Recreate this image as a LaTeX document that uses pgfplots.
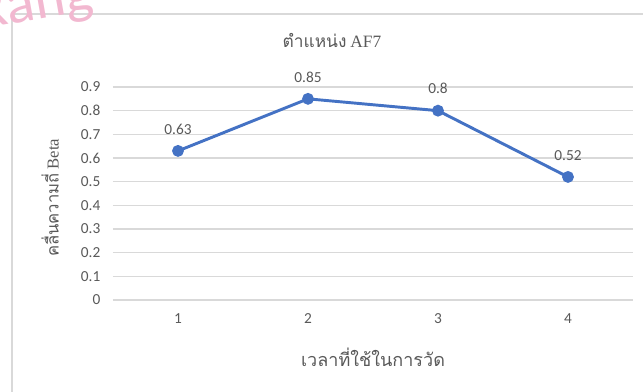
\documentclass[border=0pt]{standalone}
\usepackage{fontspec}
\setmainfont{Carlito}
\newfontfamily\thai[Script=Thai]{Loma}
\newfontfamily\latinserif{Liberation Serif}
\usepackage{pgfplots}
\pgfplotsset{compat=1.18}

\definecolor{linebl}{HTML}{4472C4}
\definecolor{txtgr}{HTML}{595959}
\definecolor{gridgr}{HTML}{D9D9D9}
\definecolor{mark}{HTML}{F2B8D0}

\begin{document}
\begin{tikzpicture}[x=1pt,y=1pt]
% page: 643 x 392 units of 0.75pt, axis box corner at (113,300)
\path[use as bounding box] (-84.75,-69) rectangle (397.5,225);
\clip (-84.75,-69) rectangle (397.5,225);

% chart frame
\draw[gridgr,line width=1.2pt] (-75.75,-69) -- (-75.75,214.5) -- (397.5,214.5);

% watermark
\node[anchor=base west,rotate=10,text=mark,font=\fontsize{44}{44}\selectfont,inner sep=0pt]
  at (-101.25,202.5) {Rang};

\begin{axis}[
  at={(0,0)}, anchor=south west,
  scale only axis,
  width=390pt, height=159.75pt,
  xmin=0.5, xmax=4.5,
  ymin=0, ymax=0.9,
  xtick={1,2,3,4},
  ytick={0,0.1,...,0.9},
  yticklabels={0,0.1,0.2,0.3,0.4,0.5,0.6,0.7,0.8,0.9},
  axis line style={draw=none},
  major tick length=0pt,
  ymajorgrids,
  grid style={gridgr,line width=0.8pt},
  tick label style={font=\fontsize{11.5}{12}\selectfont,text=txtgr},
  /pgf/number format/assume math mode=true,
  yticklabel style={xshift=-6pt},
  xticklabel style={yshift=-7pt},
  title={{\thai ตำแหน่ง} {\latinserif AF7}},
  title style={at={(axis description cs:0.421,1.183)},anchor=center,
    font=\fontsize{13}{14}\selectfont,text=txtgr},
  xlabel={\thai เวลาที่ใช้ในการวัด},
  xlabel style={at={(axis description cs:0.5,-0.268)},anchor=center,
    font=\fontsize{13.5}{14}\selectfont,text=txtgr},
  ylabel={{\thai คลื่นความถี่} {\latinserif Beta}},
  ylabel style={at={(axis description cs:-0.121,0.479)},anchor=center,
    font=\fontsize{12.5}{13}\selectfont,text=txtgr},
  nodes near coords,
  point meta=explicit symbolic,
  every node near coord/.append style={font=\fontsize{11.5}{12}\selectfont,text=txtgr,yshift=8pt},
  clip=false,
]
\addplot[linebl,line width=2.2pt,mark=*,mark size=3.3pt,mark options={fill=linebl,draw=linebl}]
  coordinates {(1,0.63)[0.63] (2,0.85)[0.85] (3,0.8)[0.8] (4,0.52)[0.52]};
\end{axis}
\end{tikzpicture}
\end{document}
